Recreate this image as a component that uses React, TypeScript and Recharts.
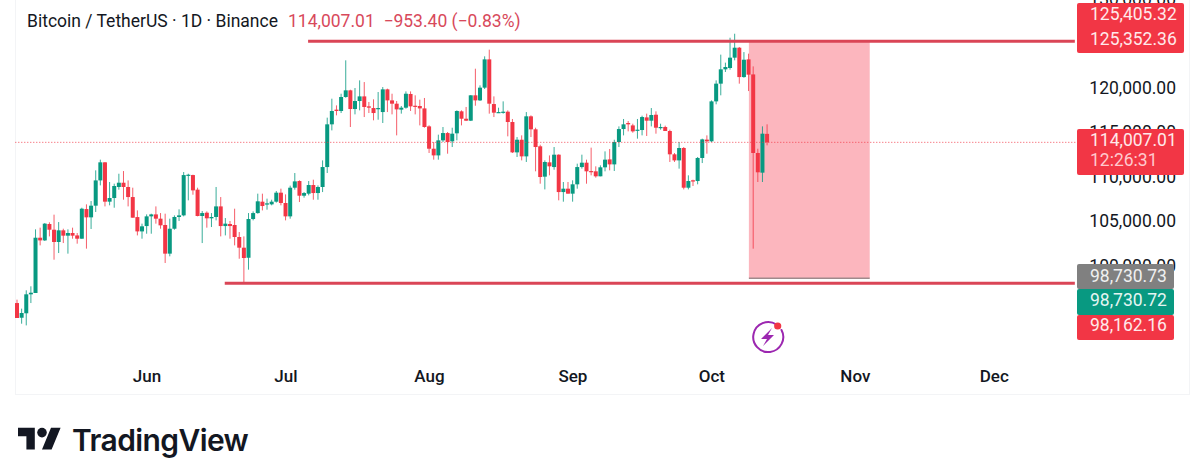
import React from "react";
import { ComposedChart, Bar, XAxis, YAxis, ReferenceLine, ReferenceArea } from "recharts";

const opens = [95950,94300,94800,96930,97080,103290,102990,104830,104190,102810,104120,103520,103820,103550,103180,106510,105580,106890,109730,111760,107340,107750,108990,109470,108990,107860,105610,104000,104600,105690,105910,105430,104720,101500,104300,105620,105800,110330,110330,108690,105730,106100,105470,105620,106810,104600,104830,104720,103370,102170,101040,105390,106060,107340,107100,107040,107340,108350,107190,105690,108910,109660,108010,108240,109210,108310,108990,111230,116030,117680,117530,119100,119850,117750,118650,119170,118050,117860,117790,117410,119960,118720,118350,117680,117900,119440,118120,118090,117820,115800,113290,112540,114230,115050,114120,115020,117490,116660,116440,119290,118720,120150,123330,118310,117340,117380,117450,116290,112880,114300,112430,116930,115470,113560,110150,111760,111230,112620,108420,108800,108240,109290,111230,111720,110780,110750,110190,111200,112090,111530,114040,115500,116180,115910,115350,115390,116810,116440,117110,115650,115730,115280,112660,111980,113370,108910,109740,109660,112250,114310,114120,118610,120600,122210,122360,123520,124640,121340,123330,121640,112810,110600,114960];
const highs = [96330,95320,97380,97830,104230,104420,104940,105020,105880,105050,104300,104230,104420,103820,106660,107040,107410,110860,112060,111790,109550,109360,110480,110780,109730,108910,106360,104870,105910,105990,106810,106060,105990,105430,105800,106480,110670,110480,110370,108910,106290,106250,106060,108990,107860,105500,105170,106550,103930,103440,106060,106250,108240,108240,107680,107560,108540,108800,108160,109140,110560,109740,108420,109660,109810,109170,111980,116780,118910,118160,119470,123220,119920,120110,120970,120780,118540,118840,119660,120220,120040,119470,118650,118090,119730,119730,119290,118800,118990,115920,114040,114870,115730,115170,115650,117600,117600,117980,119320,122280,120410,123670,124420,119170,117900,118610,117600,116630,114600,114790,117410,117040,115650,113740,111980,112540,113480,112660,109550,109550,109740,111610,112620,112060,113410,111310,111420,112990,113260,114300,115800,116630,116400,116100,116630,117000,117230,117860,117490,116100,115880,115430,112810,114040,113480,110300,109810,112360,114420,114790,118720,120970,123860,122960,125760,126210,124720,124150,123970,122540,113290,115800,116030];
const lows = [94270,93630,93440,95950,97080,102430,102920,103440,100820,101570,102690,101500,103180,102620,103180,102060,104270,106180,109170,106810,106930,106660,108690,107560,106810,105540,103550,103180,103740,103740,104870,104300,100450,101200,104190,105170,105690,107490,108120,105690,102690,104420,104490,105240,103440,103550,103180,102430,100930,98200,99700,105240,105990,106360,106440,106930,107230,106930,105240,105430,108690,107300,107790,108050,107560,107560,108420,110560,115350,117040,117300,119020,115730,117150,117600,116850,117300,116480,116550,116180,117410,117150,114790,117230,117790,117530,117150,115910,115650,112810,112060,112060,114040,112730,113480,114230,115910,116400,116400,118120,118650,120000,117230,116850,117300,117230,114680,112810,112360,111980,111800,114600,110750,109360,108720,110300,110930,107490,107340,108240,107340,108800,111050,109360,110300,110040,110190,110750,110860,110790,113480,114790,115240,115090,114420,114790,114720,115800,114980,115430,115280,111800,111800,111050,108720,108720,109100,109290,111680,112730,114050,118280,119290,121910,122170,123220,120600,121270,119770,102060,109550,109550,113670];
const closes = [94270,94830,96930,97110,103290,102990,104870,104190,102810,104120,103520,103820,103520,103180,106550,105580,106890,109730,111760,107340,107750,109100,109470,108990,107860,105540,104000,104570,105690,105910,105430,104680,101500,104300,105620,105800,110330,110370,108610,105730,106060,105470,105620,106810,104600,104870,104600,103370,102170,101010,105390,106060,107380,106850,107150,107340,108350,107190,105690,108910,109620,108010,108310,109210,108310,108990,111230,116030,117530,117530,119100,119850,117750,118650,119170,117980,117900,117300,117860,119960,118720,118350,117710,117900,119470,118050,118050,117820,115730,113290,112540,114230,115050,114040,114980,117530,116660,116440,119290,118720,120150,123330,118350,117340,117410,117450,116290,112880,114300,112430,116930,115470,113480,110110,111800,111310,112620,108420,108800,108240,109290,111230,111720,110750,110670,110190,111200,112060,111530,114040,115500,116030,116030,115240,115430,116850,116440,117080,115650,115730,115280,112660,111980,113370,108910,109660,109620,112250,114340,114120,118610,120600,122210,122470,123520,124640,121340,123290,121610,112810,110640,114980,114007.01];

const monthLabels = ["Jun", "Jul", "Aug", "Sep", "Oct", "Nov", "Dec"];
const monthDays = [28, 58, 89, 120, 150, 181, 211];
const priceTicks = [100000, 105000, 110000, 115000, 120000, 125000, 130000];

const UP = "#089981";
const DOWN = "#f23645";
const LINE = "#da4556";
const upperLevel = 125352.36;
const lowerLevel = 98162.16;
const lastPrice = 114007.01;
const positionTop = 125352.36;
const positionBottom = 98730.73;

const rows = opens.map((open, i) => ({
  day: i,
  open,
  high: highs[i],
  low: lows[i],
  close: closes[i],
  range: [lows[i], highs[i]],
}));

const Candle = (props: any) => {
  const { x, y, width, height, payload } = props;
  const { open, close, high, low } = payload;
  const h = Math.abs(height);
  const perPrice = h / Math.max(high - low, 1);
  const top = Math.min(y, y + height);
  const bodyTop = top + (high - Math.max(open, close)) * perPrice;
  const bodyH = Math.max(Math.abs(open - close) * perPrice, 1.2);
  const cx = x + width / 2;
  const color = close >= open ? UP : DOWN;
  return (
    <g>
      <line x1={cx} x2={cx} y1={top} y2={top + h} stroke={color} strokeWidth={1} strokeOpacity={0.8} />
      <rect x={cx - 2} y={bodyTop} width={4} height={bodyH} fill={color} />
    </g>
  );
};

const FONT = "Roboto, sans-serif";

const PriceTick = (props: any) => {
  const { x, y, payload } = props;
  return (
    <text x={x} y={y - 1.5} dy="0.355em" textAnchor="start" fontSize={17.5} fill="#131722" fontFamily={FONT}>
      {payload.value.toLocaleString("en-US", { minimumFractionDigits: 2 })}
    </text>
  );
};

const boxes = [
  { left: 1077, top: 3, width: 107, height: 50, color: DOWN },
  { left: 1077, top: 128.5, width: 107, height: 46, color: DOWN },
  { left: 1077, top: 264, width: 97, height: 25, color: "#808080" },
  { left: 1077, top: 289, width: 97, height: 26, color: UP },
  { left: 1077, top: 315, width: 97, height: 25, color: DOWN },
];
const boxTexts = [
  { text: "125,405.32", top: 14, color: "#ffe9ea" },
  { text: "125,352.36", top: 39, color: "#ffe9ea" },
  { text: "114,007.01", top: 140, color: "#ffe9ea" },
  { text: "12:26:31", top: 160, color: "#ffc9ce" },
  { text: "98,730.73", top: 276, color: "#f0f0f0" },
  { text: "98,730.72", top: 300, color: "#e4f5f2" },
  { text: "98,162.16", top: 325, color: "#ffe9ea" },
];

export default function App() {
  return (
    <div style={{ position: "absolute", left: 0, top: 0, width: 1200, height: 473, background: "#fff", overflow: "hidden", fontFamily: FONT }}>
      <div style={{ position: "absolute", left: 15, top: 0, width: 1175, height: 395, borderLeft: "1px solid #f3f4f6", borderRight: "1px solid #f3f4f6", borderBottom: "1px solid #f3f4f6", boxSizing: "border-box" }} />
      <div style={{ position: "absolute", left: 0, top: 0 }}>
        <ComposedChart width={1200} height={473} data={rows} margin={{ top: 0, left: 15, right: 10, bottom: 77 }}>
          <XAxis
            dataKey="day"
            type="number"
            domain={[-0.5, 228.5]}
            ticks={monthDays}
            interval={0}
            height={40}
            axisLine={false}
            tickLine={false}
            tickMargin={8}
            tickFormatter={(v: number) => monthLabels[monthDays.indexOf(v)]}
            tick={{ fontSize: 17, fontWeight: 500, fill: "#131722", fontFamily: FONT }}
          />
          <YAxis
            orientation="right"
            domain={[90000, 130000]}
            ticks={priceTicks}
            interval={0}
            allowDataOverflow
            width={114.7}
            axisLine={false}
            tickLine={false}
            tickMargin={8}
            tick={PriceTick}
          />
          <ReferenceArea x1={158} x2={184.1} y1={positionTop} y2={positionBottom} fill="#fcb6be" fillOpacity={1} stroke="none" />
          <ReferenceLine segment={[{ x: 158, y: positionBottom }, { x: 184.1, y: positionBottom }]} stroke="#a08a8c" strokeWidth={1.5} />
          <ReferenceLine y={lastPrice} stroke={DOWN} strokeWidth={1} strokeDasharray="1 2" strokeOpacity={0.9} />
          <ReferenceLine segment={[{ x: 62.8, y: upperLevel }, { x: 228.4, y: upperLevel }]} stroke={LINE} strokeWidth={3} />
          <ReferenceLine segment={[{ x: 44.8, y: lowerLevel }, { x: 228.4, y: lowerLevel }]} stroke={LINE} strokeWidth={3} />
          <Bar dataKey="range" barSize={4} shape={Candle} isAnimationActive={false} />
        </ComposedChart>
      </div>

      {boxes.map((b, i) => (
        <div key={i} style={{ position: "absolute", left: b.left, top: b.top, width: b.width, height: b.height, background: b.color, borderRadius: 2 }} />
      ))}
      {boxTexts.map((t, i) => (
        <div key={i} style={{ position: "absolute", left: 1090, top: t.top - 12, height: 24, lineHeight: "24px", fontSize: 17.5, color: t.color, whiteSpace: "nowrap" }}>{t.text}</div>
      ))}

      <div style={{ position: "absolute", left: 27, top: 9, height: 24, lineHeight: "24px", fontSize: 17.5, color: "#131722", whiteSpace: "nowrap" }}>Bitcoin / TetherUS · 1D · Binance</div>
      <div style={{ position: "absolute", left: 288, top: 9, height: 24, lineHeight: "24px", fontSize: 17.5, color: "#d8495b", whiteSpace: "pre" }}>114,007.01  −953.40 (−0.83%)</div>

      <svg style={{ position: "absolute", left: 745, top: 315 }} width={46} height={46} viewBox="745 315 46 46">
        <path d="M 776.5 324.5 A 15 15 0 1 0 781.5 330" fill="none" stroke="#9c27b0" strokeWidth={2} strokeLinecap="round" />
        <path d="M 772 328 L 761 339 L 767 339 L 763 346 L 774 335 L 768 335 Z" fill="#9c27b0" />
        <circle cx={777.7} cy={326} r={3.6} fill={DOWN} />
      </svg>

      <svg style={{ position: "absolute", left: 17.5, top: 423 }} width={45} height={33.6} viewBox="0 0 37.5 28">
        <path d="M14 22H7V11H0V4h14v18zM28 22h-8l7.5-18h8L28 22z" fill="#131722" />
        <circle cx={20} cy={8} r={4} fill="#131722" />
      </svg>
      <div style={{ position: "absolute", left: 72, top: 420, height: 40, lineHeight: "40px", fontSize: 30, fontWeight: 600, fontFamily: "Inter, sans-serif", letterSpacing: -0.6, color: "#131722", whiteSpace: "nowrap" }}>TradingView</div>
    </div>
  );
}
